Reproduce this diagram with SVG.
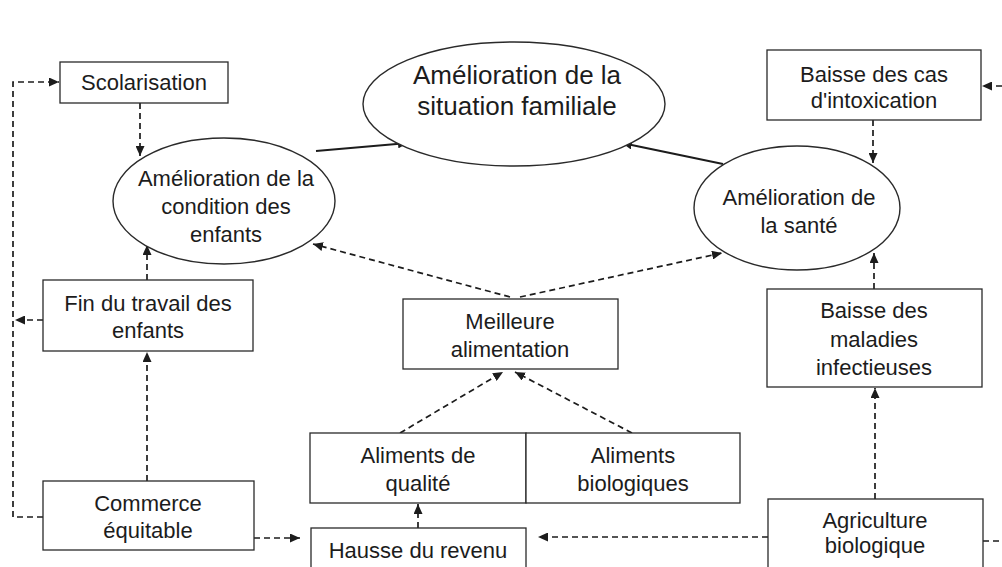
<svg xmlns="http://www.w3.org/2000/svg" width="1002" height="567" viewBox="0 0 1002 567">
  <style>
    text { font-family: "Liberation Sans", Arial, sans-serif; font-size: 22px; fill: #1c1c1c; text-anchor: middle; }
    .title { font-size: 26px; }
    .box { fill: #ffffff; stroke: #2a2a2a; stroke-width: 1.3; }
    .oval { fill: #ffffff; stroke: #2a2a2a; stroke-width: 1.4; }
    .solid { fill: none; stroke: #1c1c1c; stroke-width: 2; }
    .dash { fill: none; stroke: #1c1c1c; stroke-width: 1.7; stroke-dasharray: 6 4; }
  </style>
  <defs>
    <marker id="arrow" markerUnits="userSpaceOnUse" markerWidth="11" markerHeight="9" refX="10" refY="4.5" orient="auto">
      <path d="M0,0 L10,4.5 L0,9 z" fill="#1c1c1c"/>
    </marker>
  </defs>
  <rect width="1002" height="567" fill="#ffffff"/>

  <!-- connectors -->
  <g id="connectors">
    <line class="solid" x1="316" y1="151" x2="408" y2="143" marker-end="url(#arrow)"/>
    <line class="solid" x1="723" y1="164" x2="622" y2="143" marker-end="url(#arrow)"/>
    <line class="dash" x1="140" y1="103" x2="140" y2="156" marker-end="url(#arrow)"/>
    <line class="dash" x1="873" y1="120" x2="873" y2="163" marker-end="url(#arrow)"/>
    <line class="dash" x1="1002" y1="86" x2="982" y2="86" marker-end="url(#arrow)"/>
    <line class="dash" x1="510" y1="297" x2="313" y2="244" marker-end="url(#arrow)"/>
    <line class="dash" x1="520" y1="297" x2="722" y2="253" marker-end="url(#arrow)"/>
    <line class="dash" x1="147" y1="280" x2="147" y2="245" marker-end="url(#arrow)"/>
    <line class="dash" x1="147" y1="481" x2="147" y2="352" marker-end="url(#arrow)"/>
    <line class="dash" x1="43" y1="320" x2="15" y2="320" marker-end="url(#arrow)"/>
    <polyline class="dash" points="43,517 13,517 13,82 59,82" marker-end="url(#arrow)"/>
    <line class="dash" x1="254" y1="538" x2="300" y2="538" marker-end="url(#arrow)"/>
    <line class="dash" x1="768" y1="537" x2="538" y2="537" marker-end="url(#arrow)"/>
    <line class="dash" x1="418" y1="528" x2="418" y2="504" marker-end="url(#arrow)"/>
    <line class="dash" x1="400" y1="433" x2="503" y2="372" marker-end="url(#arrow)"/>
    <line class="dash" x1="632" y1="433" x2="515" y2="372" marker-end="url(#arrow)"/>
    <line class="dash" x1="875" y1="499" x2="875" y2="388" marker-end="url(#arrow)"/>
    <line class="dash" x1="874" y1="289" x2="874" y2="253" marker-end="url(#arrow)"/>
    <line class="dash" x1="983" y1="541" x2="1002" y2="541"/>
  </g>

  <g id="situation-familiale">
    <ellipse class="oval" cx="514" cy="104" rx="151" ry="62"/>
    <text class="title" x="517" y="84">Amélioration de la</text>
    <text class="title" x="517" y="115">situation familiale</text>
  </g>

  <g id="condition-enfants">
    <ellipse class="oval" cx="224" cy="201" rx="111" ry="63"/>
    <text x="226" y="186">Amélioration de la</text>
    <text x="226" y="214">condition des</text>
    <text x="226" y="242">enfants</text>
  </g>

  <g id="sante">
    <ellipse class="oval" cx="797" cy="208" rx="103" ry="62"/>
    <text x="799" y="205">Amélioration de</text>
    <text x="799" y="233">la santé</text>
  </g>

  <g id="scolarisation">
    <rect class="box" x="60" y="62" width="168" height="41"/>
    <text x="144" y="90">Scolarisation</text>
  </g>

  <g id="intoxication">
    <rect class="box" x="767" y="50" width="214" height="70"/>
    <text x="874" y="82">Baisse des cas</text>
    <text x="874" y="108">d'intoxication</text>
  </g>

  <g id="travail-enfants">
    <rect class="box" x="43" y="280" width="210" height="71"/>
    <text x="148" y="311">Fin du travail des</text>
    <text x="148" y="338">enfants</text>
  </g>

  <g id="alimentation">
    <rect class="box" x="403" y="299" width="215" height="70"/>
    <text x="510" y="329">Meilleure</text>
    <text x="510" y="357">alimentation</text>
  </g>

  <g id="maladies">
    <rect class="box" x="767" y="289" width="215" height="98"/>
    <text x="874" y="318">Baisse des</text>
    <text x="874" y="347">maladies</text>
    <text x="874" y="375">infectieuses</text>
  </g>

  <g id="aliments-qualite">
    <rect class="box" x="310" y="433" width="216" height="70"/>
    <text x="418" y="463">Aliments de</text>
    <text x="418" y="491">qualité</text>
  </g>

  <g id="aliments-bio">
    <rect class="box" x="526" y="433" width="214" height="70"/>
    <text x="633" y="463">Aliments</text>
    <text x="633" y="491">biologiques</text>
  </g>

  <g id="commerce">
    <rect class="box" x="43" y="481" width="211" height="69"/>
    <text x="148" y="511">Commerce</text>
    <text x="148" y="538">équitable</text>
  </g>

  <g id="revenu">
    <rect class="box" x="311" y="528" width="215" height="50"/>
    <text x="418" y="558">Hausse du revenu</text>
  </g>

  <g id="agriculture">
    <rect class="box" x="768" y="499" width="215" height="80"/>
    <text x="875" y="528">Agriculture</text>
    <text x="875" y="553">biologique</text>
  </g>
</svg>
